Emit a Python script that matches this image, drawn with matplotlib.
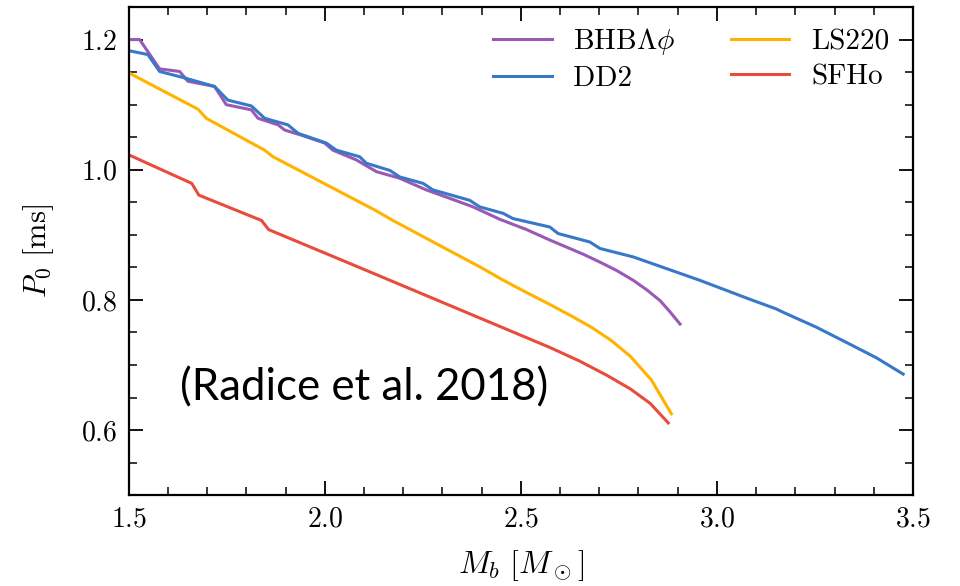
import numpy as np
import matplotlib
matplotlib.use("Agg")
import matplotlib.pyplot as plt
from matplotlib.ticker import MultipleLocator

plt.rcParams["font.family"] = "serif"
plt.rcParams["font.serif"] = ["cmr10"]
plt.rcParams["mathtext.fontset"] = "cm"
plt.rcParams["axes.formatter.use_mathtext"] = True

# baryonic mass vs. initial period, one curve per EOS
mb_bhb = [1.5, 1.528, 1.579, 1.630, 1.651, 1.719, 1.749, 1.813, 1.830, 1.881, 1.898,
          1.941, 2.0, 2.021, 2.081, 2.132, 2.191, 2.259, 2.319, 2.378, 2.446, 2.515,
          2.574, 2.617, 2.66, 2.702, 2.745, 2.787, 2.82, 2.855, 2.88, 2.906]
p0_bhb = [1.2, 1.2, 1.155, 1.151, 1.136, 1.128, 1.100, 1.092, 1.079, 1.069, 1.061,
          1.053, 1.041, 1.030, 1.015, 0.997, 0.987, 0.969, 0.956, 0.943, 0.924, 0.908,
          0.892, 0.881, 0.870, 0.858, 0.845, 0.830, 0.816, 0.799, 0.782, 0.763]

mb_dd2 = [1.5, 1.549, 1.579, 1.643, 1.719, 1.753, 1.813, 1.847, 1.906, 1.932, 2.004,
          2.030, 2.089, 2.106, 2.166, 2.191, 2.251, 2.276, 2.370, 2.395, 2.455, 2.480,
          2.574, 2.595, 2.676, 2.702, 2.787, 2.872, 2.957, 3.084, 3.152, 3.169, 3.254,
          3.339, 3.407, 3.475]
p0_dd2 = [1.183, 1.177, 1.151, 1.141, 1.128, 1.107, 1.098, 1.079, 1.069, 1.056, 1.041,
          1.030, 1.020, 1.010, 0.999, 0.989, 0.979, 0.969, 0.953, 0.943, 0.933, 0.925,
          0.912, 0.902, 0.889, 0.879, 0.866, 0.848, 0.830, 0.801, 0.786, 0.781, 0.758,
          0.732, 0.711, 0.686]

mb_ls220 = [1.5, 1.677, 1.698, 1.847, 1.868, 2.128, 2.174, 2.404, 2.45, 2.50, 2.574,
            2.63, 2.68, 2.73, 2.78, 2.833, 2.884]
p0_ls220 = [1.149, 1.093, 1.079, 1.030, 1.020, 0.938, 0.922, 0.848, 0.832, 0.816, 0.793,
            0.775, 0.758, 0.738, 0.713, 0.677, 0.625]

mb_sfho = [1.5, 1.661, 1.679, 1.839, 1.857, 2.064, 2.234, 2.404, 2.574, 2.65, 2.72,
           2.78, 2.83, 2.876]
p0_sfho = [1.023, 0.979, 0.961, 0.922, 0.908, 0.856, 0.813, 0.770, 0.727, 0.706, 0.684,
           0.663, 0.641, 0.611]

fig = plt.figure(figsize=(9.6, 5.86), dpi=100)
ax = fig.add_axes([0.134, 0.155, 0.817, 0.833])

ax.plot(mb_bhb, p0_bhb, color="#9b59b6", lw=2.2, label=r"BHB$\Lambda\phi$")
ax.plot(mb_dd2, p0_dd2, color="#3778c8", lw=2.2, label="DD2")
ax.plot(mb_ls220, p0_ls220, color="#ffb300", lw=2.2, label="LS220")
ax.plot(mb_sfho, p0_sfho, color="#e74c3c", lw=2.2, label="SFHo")

ax.set_xlim(1.5, 3.5)
ax.set_ylim(0.5, 1.25)
ax.xaxis.set_major_locator(MultipleLocator(0.5))
ax.xaxis.set_minor_locator(MultipleLocator(0.1))
ax.yaxis.set_major_locator(MultipleLocator(0.2))
ax.yaxis.set_minor_locator(MultipleLocator(0.05))
ax.tick_params(which="both", direction="in", top=True, right=True, labelsize=20)
ax.tick_params(which="major", length=10, width=1.3, pad=8)
ax.tick_params(which="minor", length=6, width=1.1)
for s in ax.spines.values():
    s.set_linewidth(1.6)

ax.set_xlabel(r"$M_b\ [M_\odot]$", fontsize=23, labelpad=11)
ax.set_ylabel(r"$P_0\ [\mathrm{ms}]$", fontsize=22, labelpad=18)

ax.legend(loc="upper right", ncol=2, frameon=False, fontsize=21,
          handlelength=2.0, handletextpad=0.75, columnspacing=1.9,
          labelspacing=0.3, borderaxespad=0.0, bbox_to_anchor=(0.985, 0.985))

ax.text(0.066, 0.22, "(Radice et al. 2018)", transform=ax.transAxes,
        family="Lato", fontsize=31.5, va="center", ha="left", color="black")

fig.savefig("out.png", dpi=100)
